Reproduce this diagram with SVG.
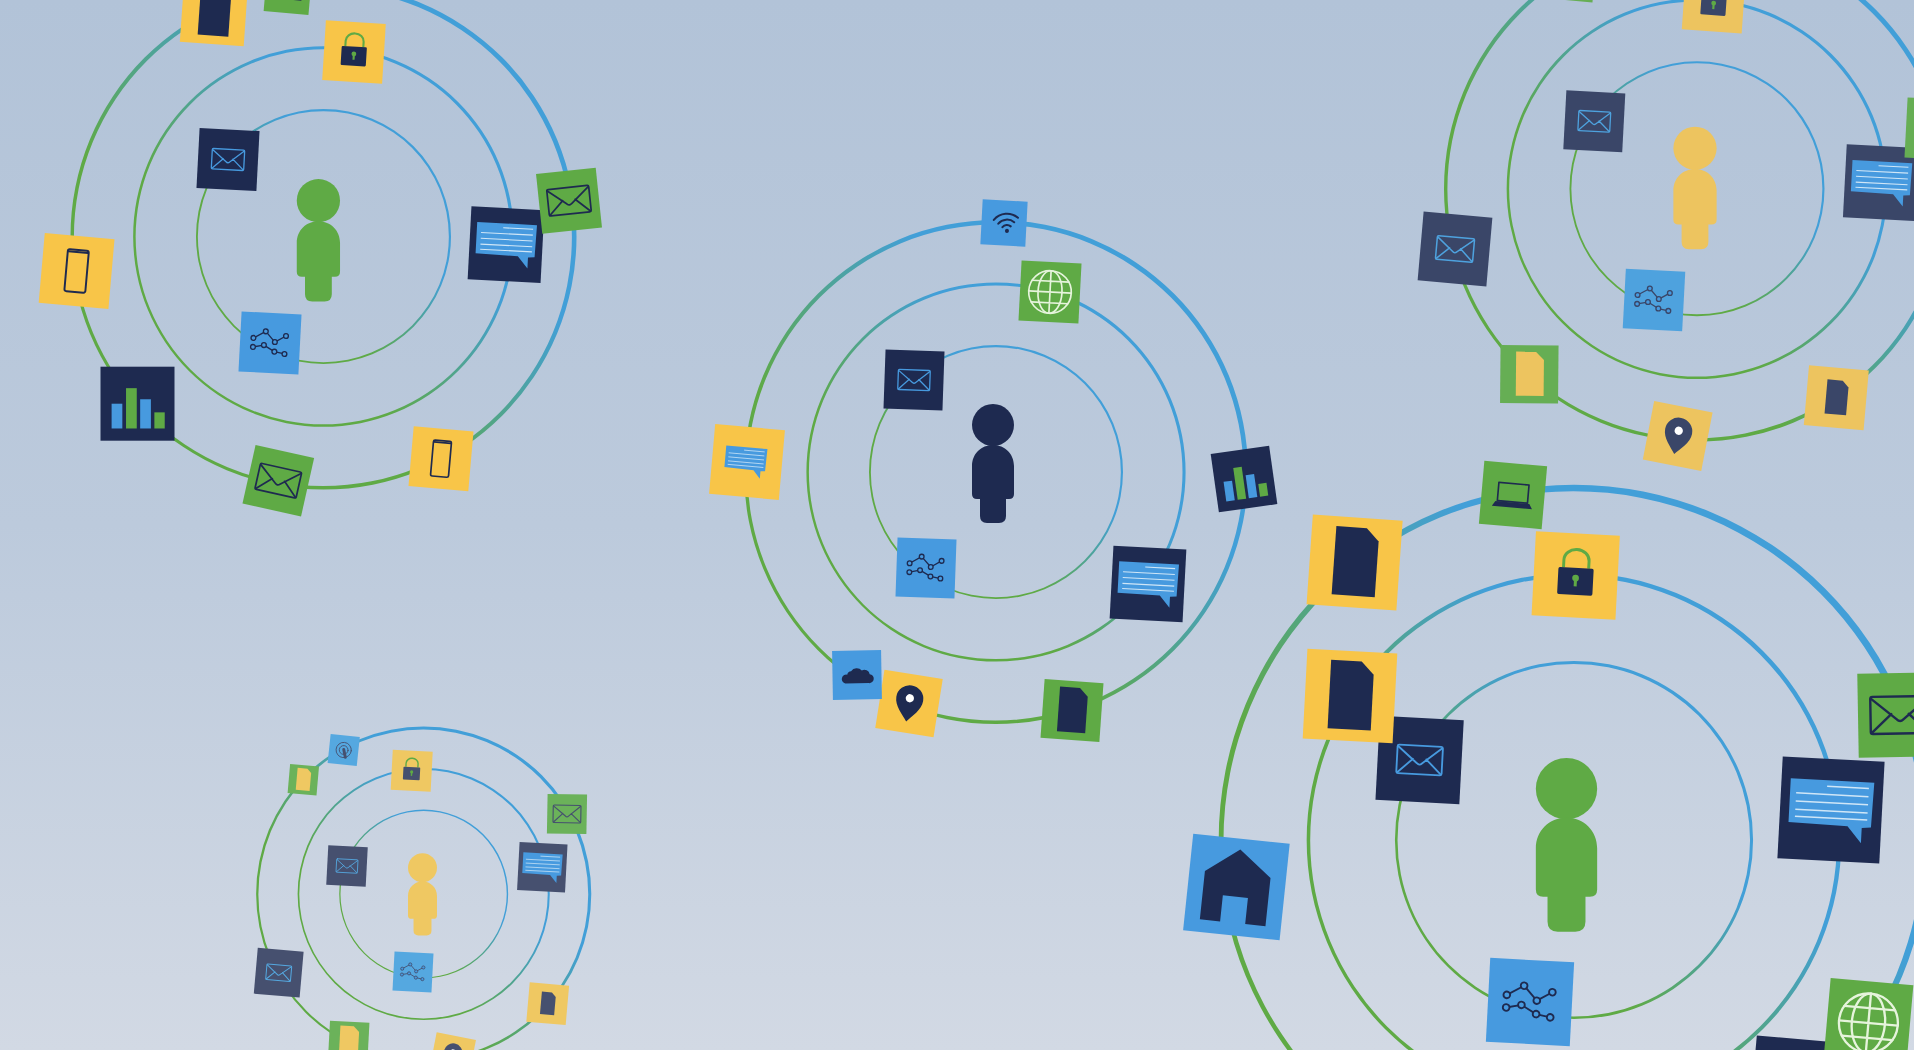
<svg xmlns="http://www.w3.org/2000/svg" width="1914" height="1050" viewBox="0 0 1914 1050">
<style>
.main{--n:#1E2A50;--y:#F8C548;--g:#5FAA45;--b:#479ADF}
.soft{--n:#3A4668;--y:#EDC45F;--g:#66AE54;--b:#4EA2DE}
.faint{--n:#46506F;--y:#EFC862;--g:#6BB25A;--b:#55A8E0}
.fn{fill:var(--n)}.fy{fill:var(--y)}.fg{fill:var(--g)}.fb{fill:var(--b)}
.cn{color:var(--n)}.cy{color:var(--y)}.cb{color:var(--b)}.cg{color:var(--g)}.cp{color:#E6F4DC}
.line{fill:none;stroke:currentColor;stroke-linecap:round;stroke-linejoin:round}
.solid{fill:currentColor}
.ring{fill:url(#ringGrad);fill-rule:evenodd}
</style>
<defs>
<linearGradient id="sky" x1="0" y1="0" x2="0" y2="1"><stop offset="0" stop-color="#B2C3D8"/><stop offset=".5" stop-color="#BCCADC"/><stop offset="1" stop-color="#D2D9E4"/></linearGradient>
<linearGradient id="ringGrad" x1=".85" y1=".15" x2=".15" y2=".85"><stop offset=".28" stop-color="#429FD8"/><stop offset=".72" stop-color="#5FAA45"/></linearGradient>
<g id="rings">
<path class="ring" d="M-252 0A252 252 0 1 1 252 0A252 252 0 1 1-252 0ZM-248.6 .6A248 248 0 1 0 247.4 .6A248 248 0 1 0-248.6 .6Z"/>
<path class="ring" d="M-189.6 0A189.6 189.6 0 1 1 189.6 0A189.6 189.6 0 1 1-189.6 0ZM-187.1 .3A186.8 186.8 0 1 0 186.5 .3A186.8 186.8 0 1 0-187.1 .3Z"/>
<path class="ring" d="M-127 0A127 127 0 1 1 127 0A127 127 0 1 1-127 0ZM-125.15 .15A125 125 0 1 0 124.85 .15A125 125 0 1 0-125.15 .15Z"/>
</g>
<rect id="t" x="-50" y="-50" width="100" height="100"/>
<g id="person"><circle cx="0" cy="21" r="21"/><path d="M0 41C-12 41-21 50-21 62V90Q-21 95-16 95H-13V112Q-13 119-6 119H6Q13 119 13 112V95H16Q21 95 21 90V62C21 50 12 41 0 41Z"/></g>
<g id="mail"><g class="line" stroke-width="2.2"><rect x="-27" y="-17" width="54" height="34" rx="2"/><path d="M-26-15L-3 4Q0 7 3 4L26-15M-26 16L-8-1M26 16L8-1"/></g></g>
<g id="chat"><path d="M-41-29L41-29L40 15L31 16L31 31L17 15L-41 14Z" fill="#479ADF"/><path d="M-5-23H36M-35-15H36M-35-7H36M-35 1H36M-35 8H36" stroke="#CFE6F7" stroke-width="1.5" fill="none"/></g>
<g id="graph"><g class="line" stroke-width="2.2"><path d="M-28-7L-8-19L8-2L26-13M-28 8L-10 4L8 14L25 17"/></g><g fill="#479ADF" stroke="currentColor" stroke-width="2.2"><circle cx="-28" cy="-7" r="4"/><circle cx="-8" cy="-19" r="4"/><circle cx="8" cy="-2" r="4"/><circle cx="26" cy="-13" r="4"/><circle cx="-28" cy="8" r="4"/><circle cx="-10" cy="4" r="4"/><circle cx="8" cy="14" r="4"/><circle cx="25" cy="17" r="4"/></g></g>
<path id="doc" class="solid" d="M-23-39L11-39L25-25L25 37L-23 37Z"/>
<g id="lock"><path d="M-15-9V-18A15 13 0 0 1 15-18V-9" fill="none" stroke="#5FAA45" stroke-width="3.5"/><rect x="-21" y="-9" width="42" height="32" rx="2" class="solid"/><circle cx="0" cy="3" r="4" fill="#5FAA45"/><rect x="-1.8" y="3" width="3.6" height="10" fill="#5FAA45"/></g>
<g id="phone"><rect class="line" x="-15" y="-30" width="30" height="60" rx="3" stroke-width="2.8"/><path class="line" d="M-14-27H14" stroke-width="3"/></g>
<g id="chart"><rect x="-35" y="0" width="14.5" height="33.5" fill="#479ADF"/><rect x="-15.5" y="-21" width="14.5" height="54.5" fill="#5FAA45"/><rect x="3.6" y="-6" width="14.5" height="39.5" fill="#479ADF"/><rect x="22.8" y="11.7" width="14" height="21.8" fill="#5FAA45"/></g>
<g id="globe"><g class="line" stroke-width="2.8"><circle r="35.5"/><ellipse rx="20" ry="35.5"/><path d="M0-35.5V35.5M-30.6-18H30.6M-35.5 0H35.5M-30.6 18H30.6"/></g></g>
<g id="wifi" transform="rotate(-8)"><path class="line" stroke-width="4.5" d="M-4.2 8.8A13 13 0 0 1 14.2 8.8M-12.7 .3A25 25 0 0 1 22.7 .3M-21.9-8.9A38 38 0 0 1 31.9-8.9"/><circle class="solid" cx="5" cy="18" r="4.5"/></g>
<path id="cloud" class="solid" d="M-24 17H24A9 9 0 0 0 26-1A11 11 0 0 0 10-9A14 14 0 0 0-12-8A9 9 0 0 0-20-1A9 9 0 0 0-24 17Z"/>
<g id="pin"><path class="solid" d="M0 31C-8 20-23 8-23-8A23 23 0 1 1 23-8C23 8 8 20 0 31Z"/><circle cx="0" cy="-9" r="7" fill="#fff"/></g>
<path id="home" class="solid" d="M0-39L34-13V37H13V10H-13V37H-34V-13Z"/>
<g id="laptop"><rect class="line" x="-24" y="-18" width="48" height="29" stroke-width="2.6"/><path class="solid" d="M-27 12H27L32 20H-32Z"/></g>
<g id="target"><circle class="line" r="26" stroke-width="3"/><circle class="line" r="15" stroke-width="3"/><path class="line" d="M0-2L8 24" stroke-width="10"/></g>
</defs>

<rect id="background" width="1914" height="1050" fill="url(#sky)"/>

<g id="connectors">
<use href="#rings" transform="translate(323.5 236.5) scale(1.004)"/>
<use href="#rings" transform="translate(996 472)"/>
<use href="#rings" transform="translate(1697 188.7) scale(1.004)"/>
<use href="#rings" transform="translate(1574 840) scale(1.41)"/>
<use href="#rings" transform="translate(423.7 894) scale(.665)"/>
</g>

<g id="cluster-top-left" class="main">
<g id="tl-person" transform="translate(318.4 179) scale(1.03)"><use href="#person" class="fg"/></g>
<g id="tl-doc" transform="translate(214 12) rotate(4) scale(.64)"><use href="#t" class="fy"/><use href="#doc" class="cn"/></g>
<g id="tl-laptop" transform="translate(288 -9.5) rotate(5) scale(.45)"><use href="#t" class="fg"/><use href="#laptop" class="cn"/></g>
<g id="tl-lock" transform="translate(354 52) rotate(3.5) scale(.6)"><use href="#t" class="fy"/><use href="#lock" class="cn"/></g>
<g id="tl-mail" transform="translate(228 159.5) rotate(3) scale(.6)"><use href="#t" class="fn"/><use href="#mail" class="cb"/></g>
<g id="tl-chat" transform="translate(506 244.7) rotate(3) scale(.73)"><use href="#t" class="fn"/><use href="#chat"/></g>
<g id="tl-mail2" transform="translate(569 200.7) rotate(-6) scale(.6)"><use href="#t" class="fg"/><use href="#mail" class="cn" transform="scale(1.3)"/></g>
<g id="tl-phone" transform="translate(76.6 271) rotate(5) scale(.7)"><use href="#t" class="fy"/><use href="#phone" class="cn"/></g>
<g id="tl-graph" transform="translate(270 343) rotate(3) scale(.6)"><use href="#t" class="fb"/><use href="#graph" class="cn"/></g>
<g id="tl-chart" transform="translate(137.5 403.7) scale(.74)"><use href="#t" class="fn"/><use href="#chart"/></g>
<g id="tl-mail3" transform="translate(278.3 480.7) rotate(12.6) scale(.6)"><use href="#t" class="fg"/><use href="#mail" class="cn" transform="scale(1.3)"/></g>
<g id="tl-phone2" transform="translate(441 458.7) rotate(5) scale(.6)"><use href="#t" class="fy"/><use href="#phone" class="cn"/></g>
</g>

<g id="cluster-center" class="main">
<g id="c-person" transform="translate(993 404)"><use href="#person" class="fn"/></g>
<g id="c-wifi" transform="translate(1004 223) rotate(3) scale(.45)"><use href="#t" class="fb"/><use href="#wifi" class="cn"/></g>
<g id="c-globe" transform="translate(1050 292) rotate(3) scale(.6)"><use href="#t" class="fg"/><use href="#globe" class="cp"/></g>
<g id="c-mail" transform="translate(914 380) rotate(2) scale(.59)"><use href="#t" class="fn"/><use href="#mail" class="cb"/></g>
<g id="c-chart" transform="translate(1244 479) rotate(-8) scale(.59)"><use href="#t" class="fn"/><use href="#chart"/></g>
<g id="c-chat" transform="translate(1148 584) rotate(3) scale(.73)"><use href="#t" class="fn"/><use href="#chat"/></g>
<g id="c-graph" transform="translate(926 568) rotate(2) scale(.59)"><use href="#t" class="fb"/><use href="#graph" class="cn"/></g>
<g id="c-chat2" transform="translate(747 462) rotate(5) scale(.7)"><use href="#t" class="fy"/><use href="#chat" transform="translate(-2 0) scale(.72)"/></g>
<g id="c-pin" transform="translate(909 703.5) rotate(9) scale(.59)"><use href="#t" class="fy"/><use href="#pin" class="cn"/></g>
<g id="c-cloud" transform="translate(857 675) rotate(-1) scale(.49)"><use href="#t" class="fb"/><use href="#cloud" class="cn"/></g>
<g id="c-doc" transform="translate(1072 710.5) rotate(4) scale(.59)"><use href="#t" class="fg"/><use href="#doc" class="cn"/></g>
</g>

<g id="cluster-top-right" class="soft">
<g id="tr-person" transform="translate(1695 126.7) scale(1.03)"><use href="#person" class="fy"/></g>
<g id="tr-top" transform="translate(1572 -22) rotate(5) scale(.45)"><use href="#t" class="fg"/></g>
<g id="tr-lock" transform="translate(1713.8 1.4) rotate(4) scale(.6)"><use href="#t" class="fy"/><use href="#lock" class="cn"/></g>
<g id="tr-mail" transform="translate(1594.3 121.3) rotate(3) scale(.59)"><use href="#t" class="fn"/><use href="#mail" class="cb"/></g>
<g id="tr-chat" transform="translate(1881.3 182.7) rotate(3) scale(.73)"><use href="#t" class="fn"/><use href="#chat"/></g>
<g id="tr-green" transform="translate(1936 129) rotate(3) scale(.6)"><use href="#t" class="fg"/></g>
<g id="tr-mail2" transform="translate(1455 249) rotate(5) scale(.69)"><use href="#t" class="fn"/><use href="#mail" class="cb"/></g>
<g id="tr-graph" transform="translate(1654 300) rotate(3) scale(.595)"><use href="#t" class="fb"/><use href="#graph" class="cn"/></g>
<g id="tr-doc" transform="translate(1529.3 374.3) rotate(.5) scale(.58)"><use href="#t" class="fg"/><use href="#doc" class="cy"/></g>
<g id="tr-pin" transform="translate(1677.7 436) rotate(11) scale(.595)"><use href="#t" class="fy"/><use href="#pin" class="cn"/></g>
<g id="tr-doc2" transform="translate(1836.3 397.7) rotate(5) scale(.6)"><use href="#t" class="fy"/><use href="#doc" class="cn" transform="scale(.75)"/></g>
</g>

<g id="cluster-bottom-right" class="main">
<g id="br-person" transform="translate(1566.5 758) scale(1.46)"><use href="#person" class="fg"/></g>
<g id="br-laptop" transform="translate(1513 495) rotate(5) scale(.63)"><use href="#t" class="fg"/><use href="#laptop" class="cn"/></g>
<g id="br-doc" transform="translate(1354.6 562.5) rotate(4) scale(.9)"><use href="#t" class="fy"/><use href="#doc" class="cn"/></g>
<g id="br-lock" transform="translate(1575.7 575.5) rotate(3) scale(.84)"><use href="#t" class="fy"/><use href="#lock" class="cn"/></g>
<g id="br-mail" transform="translate(1419.6 760) rotate(3) scale(.84)"><use href="#t" class="fn"/><use href="#mail" class="cb"/></g>
<g id="br-doc2" transform="translate(1350 696) rotate(3) scale(.9)"><use href="#t" class="fy"/><use href="#doc" class="cn"/></g>
<g id="br-home" transform="translate(1236.4 887) rotate(6) scale(.97)"><use href="#t" class="fb"/><use href="#home" class="cn"/></g>
<g id="br-chat" transform="translate(1831 810) rotate(3) scale(1.02)"><use href="#t" class="fn"/><use href="#chat"/></g>
<g id="br-mail2" transform="translate(1900 715) rotate(-1) scale(.84)"><use href="#t" class="fg"/><use href="#mail" class="cn" transform="scale(1.3)"/></g>
<g id="br-graph" transform="translate(1530 1002) rotate(3) scale(.84)"><use href="#t" class="fb"/><use href="#graph" class="cn"/></g>
<g id="br-navy" transform="translate(1795 1081) rotate(5) scale(.84)"><use href="#t" class="fn"/></g>
<g id="br-globe" transform="translate(1868.4 1023) rotate(5) scale(.83)"><use href="#t" class="fg"/><use href="#globe" class="cp"/></g>
</g>

<g id="cluster-bottom-left" class="faint">
<g id="bl-person" transform="translate(422.5 853.3) scale(.69)"><use href="#person" class="fy"/></g>
<g id="bl-doc" transform="translate(303.3 779.7) rotate(5) scale(.29)"><use href="#t" class="fg"/><use href="#doc" class="cy"/></g>
<g id="bl-target" transform="translate(343.7 750) rotate(6) scale(.293)"><use href="#t" class="fb"/><use href="#target" class="cn"/></g>
<g id="bl-lock" transform="translate(411.7 770.7) rotate(3) scale(.4)"><use href="#t" class="fy"/><use href="#lock" class="cn"/></g>
<g id="bl-mail" transform="translate(567 814) rotate(1) scale(.395)"><use href="#t" class="fg"/><use href="#mail" class="cn" transform="scale(1.3)"/></g>
<g id="bl-mail2" transform="translate(347 866) rotate(3) scale(.395)"><use href="#t" class="fn"/><use href="#mail" class="cb"/></g>
<g id="bl-chat" transform="translate(542.3 867.3) rotate(3) scale(.48)"><use href="#t" class="fn"/><use href="#chat"/></g>
<g id="bl-mail3" transform="translate(278.7 972.7) rotate(5) scale(.46)"><use href="#t" class="fn"/><use href="#mail" class="cb"/></g>
<g id="bl-graph" transform="translate(413 972) rotate(3) scale(.39)"><use href="#t" class="fb"/><use href="#graph" class="cn"/></g>
<g id="bl-doc2" transform="translate(547.7 1003.7) rotate(5) scale(.395)"><use href="#t" class="fy"/><use href="#doc" class="cn" transform="scale(.75)"/></g>
<g id="bl-doc3" transform="translate(348.7 1041.4) rotate(3) scale(.395)"><use href="#t" class="fg"/><use href="#doc" class="cy"/></g>
<g id="bl-pin" transform="translate(452.5 1055.7) rotate(11) scale(.4)"><use href="#t" class="fy"/><use href="#pin" class="cn"/></g>
</g>
</svg>
